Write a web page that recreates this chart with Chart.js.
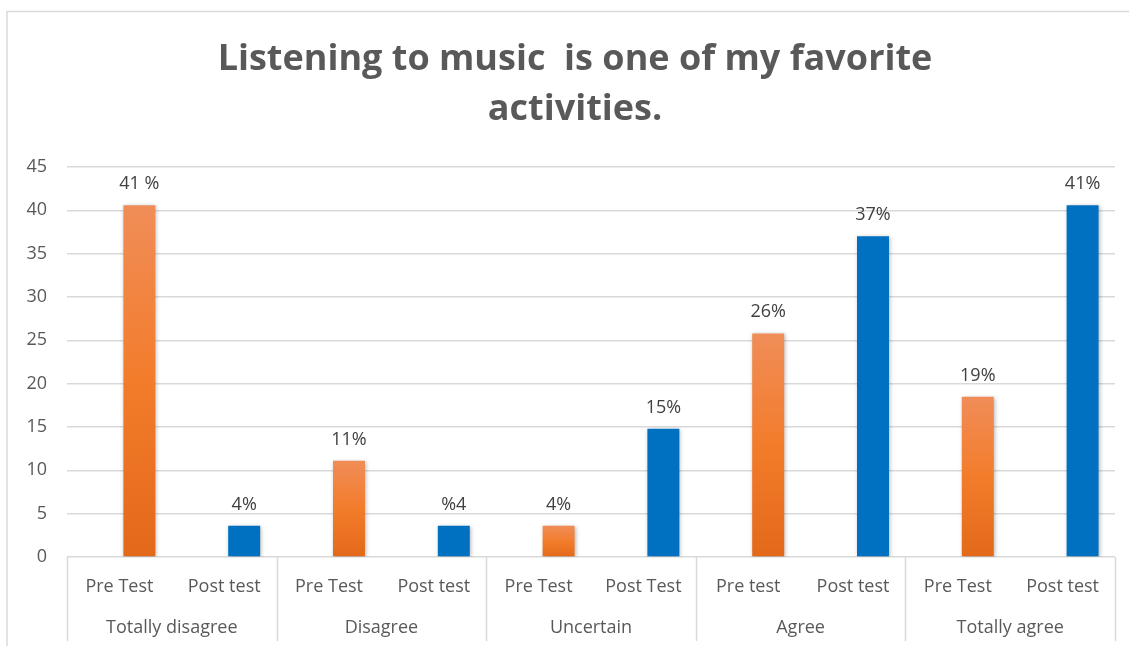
<!DOCTYPE html>
<html>
<head>
<meta charset="utf-8">
<script src="https://cdn.jsdelivr.net/npm/chart.js@4.4.1/dist/chart.umd.min.js"></script>
<style>
html,body{margin:0;padding:0;background:#fff;}
#wrap{width:1129px;height:646px;position:relative;}
</style>
</head>
<body>
<div id="wrap"><canvas id="c" width="1129" height="646"></canvas></div>
<script>
// ---- data ----
const groups = ["Totally disagree", "Disagree", "Uncertain", "Agree", "Totally agree"];
const subLabels = ["Pre Test", "Post test", "Pre Test", "Post test", "Pre Test", "Post Test", "Pre test", "Post test", "Pre Test", "Post test"];
const values = [40.6, 3.6, 11.1, 3.6, 3.6, 14.8, 25.8, 37.0, 18.5, 40.6];
const valueLabels = ["41 %", "4%", "11%", "%4", "4%", "15%", "26%", "37%", "19%", "41%"];
const yTicks = [0, 5, 10, 15, 20, 25, 30, 35, 40, 45];
const titleLines = ["Listening to music  is one of my favorite", "activities."];

const FONT = "'Open Sans', 'Liberation Sans', sans-serif";
const TEXT = '#595959';

function barFill(ctx) {
  const i = ctx.dataIndex;
  const isPre = subLabels[i].toLowerCase().startsWith('pre');
  if (!isPre) return '#0070C0';
  const chart = ctx.chart;
  const ys = chart.scales.y;
  if (!chart.chartArea || !ys) return '#F07B2C';
  const top = ys.getPixelForValue(values[i]);
  const bot = ys.getPixelForValue(0);
  const g = chart.ctx.createLinearGradient(0, top, 0, bot);
  g.addColorStop(0, '#F08D58');
  g.addColorStop(0.5, '#F37C2B');
  g.addColorStop(1, '#E2691A');
  return g;
}

const framePlugin = {
  id: 'frame',
  beforeDraw(chart) {
    const c = chart.ctx;
    c.save();
    c.strokeStyle = '#D9D9D9';
    c.lineWidth = 1.5;
    c.beginPath();
    c.moveTo(7, 646); c.lineTo(7, 11.5); c.lineTo(1129, 11.5);
    c.stroke();
    // title
    c.fillStyle = TEXT;
    c.font = "bold 36px " + FONT;
    c.textAlign = 'center';
    c.textBaseline = 'middle';
    c.fillText(titleLines[0], 575, 60);
    c.fillText(titleLines[1], 575, 110);
    c.restore();
  }
};

const shadowPlugin = {
  id: 'barShadow',
  beforeDatasetDraw(chart) {
    const c = chart.ctx;
    c.save();
    c.shadowColor = 'rgba(0,0,0,0.28)';
    c.shadowBlur = 4;
    c.shadowOffsetX = 1;
    c.shadowOffsetY = 1;
  },
  afterDatasetDraw(chart) { chart.ctx.restore(); }
};

const labelsPlugin = {
  id: 'extras',
  afterDatasetsDraw(chart) {
    const c = chart.ctx;
    const meta = chart.getDatasetMeta(1);
    c.save();
    c.fillStyle = '#404040';
    c.font = "18px " + FONT;
    c.textAlign = 'center';
    c.textBaseline = 'alphabetic';
    meta.data.forEach((bar, i) => {
      c.fillText(valueLabels[i], bar.x, bar.y - 16);
    });
    c.restore();
  },
  afterDraw(chart) {
    const c = chart.ctx;
    const xs = chart.scales.x;
    const area = chart.chartArea;
    const n = subLabels.length / groups.length;
    const half = (xs.getPixelForValue(1) - xs.getPixelForValue(0)) / 2;
    c.save();
    c.strokeStyle = '#D9D9D9';
    c.lineWidth = 1.5;
    c.fillStyle = TEXT;
    c.font = "18px " + FONT;
    c.textAlign = 'center';
    c.textBaseline = 'middle';
    groups.forEach((g, gi) => {
      const left = xs.getPixelForValue(gi * n) - half;
      const right = xs.getPixelForValue(gi * n + n - 1) + half;
      c.beginPath();
      c.moveTo(Math.round(left) + 0.5, area.bottom);
      c.lineTo(Math.round(left) + 0.5, 641);
      c.stroke();
      if (gi === groups.length - 1) {
        c.beginPath();
        c.moveTo(Math.round(right) + 0.5, area.bottom);
        c.lineTo(Math.round(right) + 0.5, 641);
        c.stroke();
      }
      c.fillText(g, (left + right) / 2, 628);
    });
    c.restore();
  }
};

new Chart(document.getElementById('c'), {
  type: 'bar',
  data: {
    labels: subLabels,
    datasets: [
      { label: 'spacer', data: subLabels.map(() => null), backgroundColor: 'rgba(0,0,0,0)' },
      { label: 'Share', data: values, backgroundColor: barFill, borderWidth: 0 }
    ]
  },
  options: {
    responsive: false,
    animation: false,
    devicePixelRatio: 1,
    categoryPercentage: 0.763,
    barPercentage: 0.8,
    layout: { padding: { left: 0, right: 14, top: 167, bottom: 0 } },
    plugins: {
      legend: { display: false },
      tooltip: { enabled: false },
      title: { display: false }
    },
    scales: {
      x: {
        grid: { display: false, drawTicks: false },
        border: { display: false },
        ticks: { color: TEXT, font: { family: FONT, size: 18 }, padding: 19, maxRotation: 0, autoSkip: false },
        afterFit(s) { s.height = 89; }
      },
      y: {
        min: 0, max: 45,
        afterBuildTicks(s) { s.ticks = yTicks.map(v => ({ value: v })); },
        grid: { color: '#D9D9D9', lineWidth: 1.5, drawTicks: false },
        border: { display: false },
        ticks: { color: TEXT, font: { family: FONT, size: 18 }, padding: 20 },
        afterFit(s) { s.width = 67; }
      }
    }
  },
  plugins: [framePlugin, shadowPlugin, labelsPlugin]
});
</script>
</body>
</html>
